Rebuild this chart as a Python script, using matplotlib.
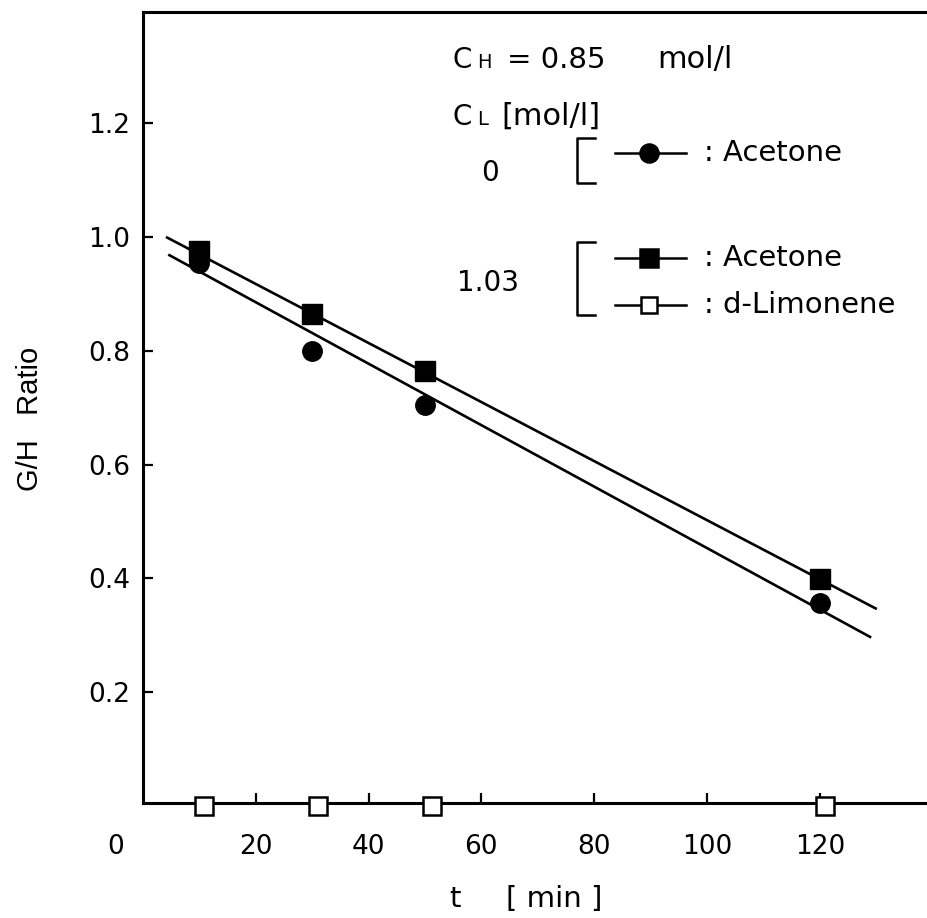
import numpy as np
import matplotlib
matplotlib.use("Agg")
import matplotlib.pyplot as plt
from matplotlib.lines import Line2D

# ---------------------------------------------------------------
# donnees
t_meas = [10, 30, 50, 120]                    # temps [min]
acetone_cl0 = [0.955, 0.800, 0.704, 0.357]    # CL = 0
acetone_cl103 = [0.975, 0.864, 0.764, 0.398]  # CL = 1.03
t_limonene = [10.9, 31.1, 51.3, 121.0]
limonene_cl103 = [0.0, 0.0, 0.0, 0.0]

# droites de regression (extremites)
fit_cl103_t = [4.3, 129.9]
fit_cl103_y = [0.999, 0.347]
fit_cl0_t = [4.7, 128.9]
fit_cl0_y = [0.968, 0.297]

x_ticks = [20, 40, 60, 80, 100, 120]
y_ticks = [0.2, 0.4, 0.6, 0.8, 1.0, 1.2]

W, H = 927, 918
plt.rcParams['font.family'] = ['DejaVu Sans']


def fx(px):
    return px / W


def fy(py):
    return 1 - py / H


fig = plt.figure(figsize=(W / 100, H / 100), dpi=100)
ax = fig.add_axes([fx(142.9), fy(803), 1 - fx(142.9), fy(12.3) - fy(803)])

ax.plot(fit_cl103_t, fit_cl103_y, '-', color='k', lw=1.9)
ax.plot(fit_cl0_t, fit_cl0_y, '-', color='k', lw=1.9)
ax.plot(t_meas, acetone_cl103, 's', color='k', ms=14)
ax.plot(t_meas, acetone_cl0, 'o', color='k', ms=14)
ax.plot(t_limonene, limonene_cl103, 's', mfc='white', mec='k', mew=1.8,
        ms=13, clip_on=False, zorder=5)

ax.set_xlim(0, 139)
ax.set_ylim(0.005, 1.395)
ax.set_xticks(x_ticks)
ax.set_yticks(y_ticks)
ax.set_xticklabels([str(v) for v in x_ticks], fontsize=19)
ax.set_yticklabels([f'{v:.1f}' for v in y_ticks], fontsize=19)
ax.tick_params(axis='x', direction='in', length=7, width=1.6, pad=22)
ax.tick_params(axis='y', direction='in', length=7, width=1.6, pad=9)
ax.spines['right'].set_visible(False)
for s in ['left', 'bottom', 'top']:
    ax.spines[s].set_linewidth(2.2)

# origine et titres des axes
fig.text(fx(116), fy(847), '0', fontsize=19, ha='center', va='center')
fig.text(fx(455), fy(899), 't', fontsize=21, ha='center', va='center')
fig.text(fx(506), fy(899), '[ min ]', fontsize=21, ha='left', va='center')
fig.text(fx(30), fy(419), 'G/H   Ratio', fontsize=21, rotation=90,
         ha='center', va='center',
         family=['Liberation Sans Narrow', 'Liberation Sans', 'DejaVu Sans'])

# annotations en haut a droite
fig.text(fx(452), fy(68), 'C', fontsize=20, va='baseline')
fig.text(fx(477), fy(68), 'H', fontsize=14, va='baseline')
fig.text(fx(507), fy(68), '= 0.85', fontsize=21, va='baseline')
fig.text(fx(657), fy(68), 'mol/l', fontsize=22, va='baseline')

fig.text(fx(452), fy(125), 'C', fontsize=20, va='baseline')
fig.text(fx(477), fy(125), 'L', fontsize=14, va='baseline')
fig.text(fx(501), fy(125), '[mol/l]', fontsize=22, va='baseline')

fig.text(fx(490), fy(173), '0', fontsize=20, ha='center', va='center')
fig.text(fx(488), fy(283), '1.03', fontsize=20, ha='center', va='center')

# crochets
for y0, y1 in [(138, 183), (242, 315)]:
    fig.add_artist(Line2D([fx(595), fx(577), fx(577), fx(595)],
                          [fy(y0), fy(y0), fy(y1), fy(y1)],
                          color='k', lw=1.8, transform=fig.transFigure))

# symboles de legende
rows = [(153, 'o', 'k', ': Acetone'),
        (258, 's', 'k', ': Acetone'),
        (305, 's', 'white', ': d-Limonene')]
for py, mk, fc, lab in rows:
    fig.add_artist(Line2D([fx(615), fx(686)], [fy(py), fy(py)], color='k', lw=1.8,
                          transform=fig.transFigure))
    fig.add_artist(Line2D([fx(649)], [fy(py)], marker=mk, ms=13 if fc == 'k' else 11,
                          mfc=fc, mec='k', mew=1.8, transform=fig.transFigure))
    fig.text(fx(704), fy(py), lab, fontsize=21, va='center')

fig.savefig('out.png', dpi=100)
